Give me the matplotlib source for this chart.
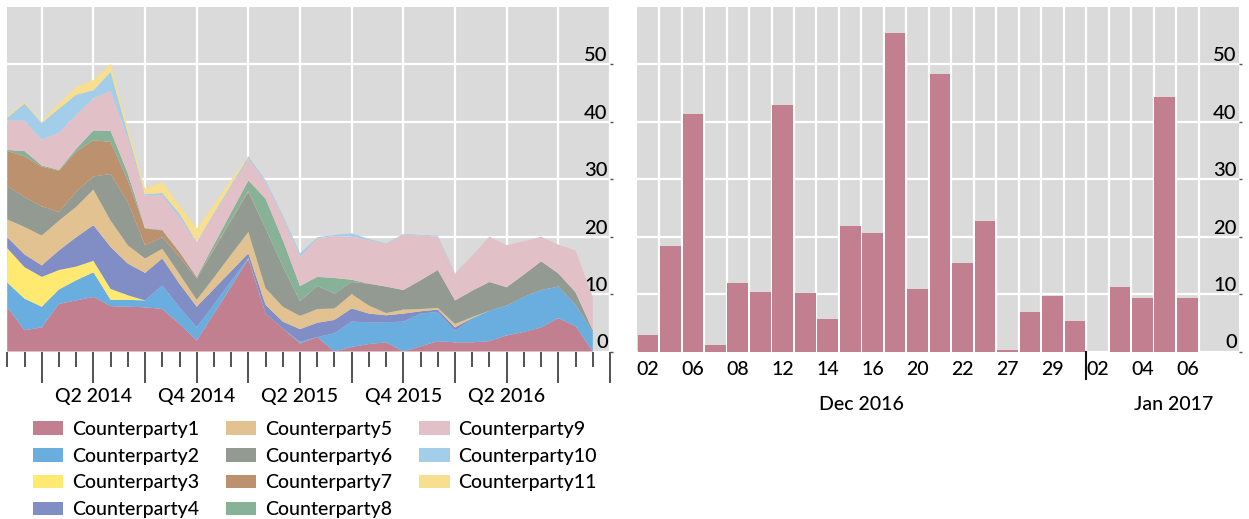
import numpy as np
import matplotlib
matplotlib.use("Agg")
import matplotlib.pyplot as plt
import matplotlib.transforms as mtransforms
from matplotlib.lines import Line2D

plt.rcParams["font.family"] = ["Lato", "DejaVu Sans"]
plt.rcParams["font.weight"] = "medium"
TEXT = "#000000"
BG = "#DADADA"

# ---------------------------------------------------------------------------
# Left chart: monthly exposure by counterparty, Nov 2013 .. Sep 2016
# ---------------------------------------------------------------------------
cp1 = [7.7, 3.7, 4.2, 8.3, 8.9, 9.5, 7.9, 7.8, 7.7, 7.4, 4.8, 1.9, 6.6, 11.3, 16.1, 6.6, 4.0, 1.4,
       2.5, 0.0, 0.8, 1.3, 1.6, 0.0, 0.9, 1.8, 1.6, 1.6, 1.8, 2.8, 3.4, 4.2, 5.8, 4.4, 0.0]
cp2 = [4.3, 5.5, 3.6, 2.5, 3.5, 4.3, 1.1, 1.2, 1.2, 4.1, 2.9, 2.3, 1.6, 1.0, 0.2, 0.0, 0.0, 0.3,
       0.0, 3.2, 4.4, 3.8, 3.5, 5.2, 5.7, 5.1, 2.0, 4.1, 5.3, 5.2, 6.1, 6.5, 5.5, 3.8, 3.4]
cp3 = [6.0, 5.5, 5.2, 3.4, 2.4, 2.0, 1.9, 0.8, 0.0, 0.0, 0.0, 0.0, 0.0, 0.0, 0.0, 0.0, 0.0, 0.0,
       0.0, 0.0, 0.0, 0.0, 0.0, 0.0, 0.0, 0.0, 0.0, 0.0, 0.0, 0.0, 0.0, 0.0, 0.0, 0.0, 0.0]
cp4 = [1.9, 2.2, 2.0, 3.4, 5.1, 6.2, 7.3, 5.5, 4.8, 4.7, 4.1, 3.6, 2.7, 1.7, 0.8, 1.5, 1.2, 2.2,
       2.5, 2.3, 2.3, 1.5, 1.2, 1.4, 0.4, 0.4, 0.6, 0.1, 0.0, 0.0, 0.0, 0.0, 0.0, 0.0, 0.0]
cp5 = [3.1, 4.8, 5.2, 5.2, 5.3, 6.2, 4.6, 3.2, 2.5, 1.7, 1.7, 1.2, 2.0, 2.9, 3.7, 2.9, 2.6, 2.3,
       2.4, 2.0, 2.5, 1.4, 0.4, 0.7, 0.4, 0.3, 0.6, 0.2, 0.0, 0.0, 0.0, 0.0, 0.0, 0.0, 0.0]
cp6 = [5.8, 5.2, 5.1, 1.5, 2.6, 2.3, 8.1, 7.5, 2.3, 2.0, 3.0, 3.7, 4.8, 5.9, 7.0, 10.4, 7.0, 2.6,
       4.0, 2.6, 2.1, 3.8, 4.6, 3.4, 5.0, 6.6, 4.1, 4.6, 5.0, 3.2, 3.9, 5.0, 2.3, 2.1, 0.3]
cp7 = [6.1, 7.1, 6.9, 7.2, 7.0, 6.3, 5.6, 3.8, 2.9, 1.2, 0.8, 0.2, 0.2, 0.2, 0.2, 0.0, 0.0, 0.0,
       0.0, 0.0, 0.0, 0.0, 0.0, 0.0, 0.0, 0.0, 0.0, 0.0, 0.0, 0.0, 0.0, 0.0, 0.0, 0.0, 0.0]
cp8 = [0.2, 0.9, 0.2, 0.1, 0.5, 1.7, 1.9, 1.2, 0.1, 0.1, 0.0, 0.1, 0.7, 1.2, 1.8, 5.2, 4.6, 2.6,
       1.6, 2.7, 0.4, 0.0, 0.0, 0.0, 0.0, 0.0, 0.0, 0.0, 0.0, 0.0, 0.0, 0.0, 0.0, 0.0, 0.0]
cp9 = [5.2, 5.3, 4.5, 6.5, 5.9, 5.6, 7.0, 6.1, 5.7, 6.0, 6.1, 6.0, 5.3, 4.5, 3.8, 2.9, 4.0, 5.1,
       6.7, 7.3, 7.5, 7.6, 7.4, 9.7, 7.8, 5.8, 4.6, 6.1, 7.9, 7.3, 5.8, 4.3, 5.0, 7.3, 5.8]
cp10 = [0.4, 3.0, 2.9, 4.2, 3.5, 1.4, 3.3, 0.9, 0.2, 0.4, 0.6, 0.1, 0.2, 0.3, 0.4, 0.3, 0.3, 0.6,
        0.2, 0.2, 0.6, 0.2, 0.1, 0.1, 0.1, 0.2, 0.1, 0.0, 0.0, 0.0, 0.0, 0.0, 0.0, 0.0, 0.0]
cp11 = [0.2, 0.3, 0.2, 0.9, 1.4, 1.8, 1.4, 1.0, 1.0, 1.9, 1.5, 2.3, 1.5, 0.9, 0.1, 0.0, 0.0, 0.0,
        0.0, 0.0, 0.0, 0.0, 0.0, 0.0, 0.0, 0.0, 0.0, 0.0, 0.0, 0.0, 0.0, 0.0, 0.0, 0.0, 0.0]

series = [cp1, cp2, cp3, cp4, cp5, cp6, cp7, cp8, cp9, cp10, cp11]
names = [f"Counterparty{i}" for i in range(1, 12)]
colors = ["#C17F8F", "#6AAEDF", "#FFE970", "#818DC5", "#E2C290", "#939A92",
          "#BC916E", "#87B298", "#E1C1C7", "#A3CEEA", "#F8DE8F"]

quarter_labels = ["Q2 2014", "Q4 2014", "Q2 2015", "Q4 2015", "Q2 2016"]

# ---------------------------------------------------------------------------
# Right chart: daily values, business days Dec 2016 .. Jan 2017
# ---------------------------------------------------------------------------
bar_days = ["02", "05", "06", "07", "08", "09", "12", "13", "14", "15", "16", "19", "20",
            "21", "22", "23", "27", "28", "29", "30", "02", "03", "04", "05", "06"]
bar_values = [2.9, 18.3, 41.3, 1.2, 11.9, 10.4, 42.9, 10.2, 5.6, 21.8, 20.7, 55.5, 10.8,
              48.4, 15.4, 22.7, 0.2, 6.8, 9.7, 5.3, 0.0, 11.3, 9.3, 44.3, 9.4]
bar_color = "#C27F8F"

W, H = 1249, 519
fig = plt.figure(figsize=(W / 100, H / 100), dpi=100)
ax1 = fig.add_axes([7.3 / W, 167.5 / H, 602.7 / W, 344.5 / H])
ax2 = fig.add_axes([636.7 / W, 167.5 / H, 602.3 / W, 344.5 / H])


def style_y(ax):
    ax.set_facecolor(BG)
    for s in ax.spines.values():
        s.set_visible(False)
    ax.set_ylim(0, 60)
    ax.set_yticks(range(0, 60, 10))
    ax.yaxis.tick_right()
    ax.tick_params(axis="y", length=2, width=1, color="#555555", pad=-3.7,
                   labelsize=14.5, labelcolor=TEXT)
    for lbl in ax.get_yticklabels():
        lbl.set_ha("right")
        lbl.set_va("bottom")
    ax.grid(axis="y", color="white", linewidth=1.6)
    ax.set_axisbelow(True)


# ---- left: stacked area ----
x = np.arange(len(cp1))
polys = ax1.stackplot(x, *series, colors=colors, labels=names, linewidth=0)
style_y(ax1)
ax1.set_xlim(0, 35)
quarter_pos = np.arange(2, 36, 3)
ax1.set_xticks(quarter_pos)
ax1.set_xticklabels([quarter_labels[(i - 1) // 2] if i % 2 == 1 and (i - 1) // 2 < len(quarter_labels) else ""
                     for i in range(len(quarter_pos))])
ax1.set_xticks(np.arange(0, 36), minor=True)
ax1.tick_params(axis="x", which="major", length=22, width=1.3, color="#444444", pad=4,
                labelsize=14, labelcolor=TEXT)
ax1.tick_params(axis="x", which="minor", length=11, width=1.3, color="#444444")
ax1.grid(axis="x", which="major", color="white", linewidth=1.6)

fig.legend(handles=polys, loc="upper left", bbox_to_anchor=(33 / W, 1 - 421 / H),
           ncols=3, frameon=False, fontsize=14, handlelength=1.55, handleheight=0.7,
           handletextpad=0.45, columnspacing=1.4, labelspacing=0.5,
           borderpad=0, borderaxespad=0, labelcolor=TEXT)

# ---- right: daily bars ----
pos = np.arange(len(bar_values))
ax2.bar(pos, bar_values, width=0.92, color=bar_color, zorder=2)
style_y(ax2)
ax2.set_xlim(-0.5, 26.3)
ax2.set_xticks(pos[::2])
ax2.set_xticklabels(bar_days[::2])
ax2.set_xticks(pos + 0.5, minor=True)
ax2.tick_params(axis="x", which="both", length=0, pad=7, labelsize=14, labelcolor=TEXT)
ax2.grid(axis="x", which="minor", color="white", linewidth=1.6)

# month separator and month names
trans = mtransforms.blended_transform_factory(ax2.transData, ax2.transAxes)
ax2.add_line(Line2D([19.5, 19.5], [0, -0.08], transform=trans, color="#111111",
                    linewidth=1.5, clip_on=False))
ax2.text(9.5, -0.155, "Dec 2016", transform=trans, ha="center", va="center",
         fontsize=14, color=TEXT)
ax2.text(23.4, -0.155, "Jan 2017", transform=trans, ha="center", va="center",
         fontsize=14, color=TEXT)

fig.savefig("out.png", dpi=100)
